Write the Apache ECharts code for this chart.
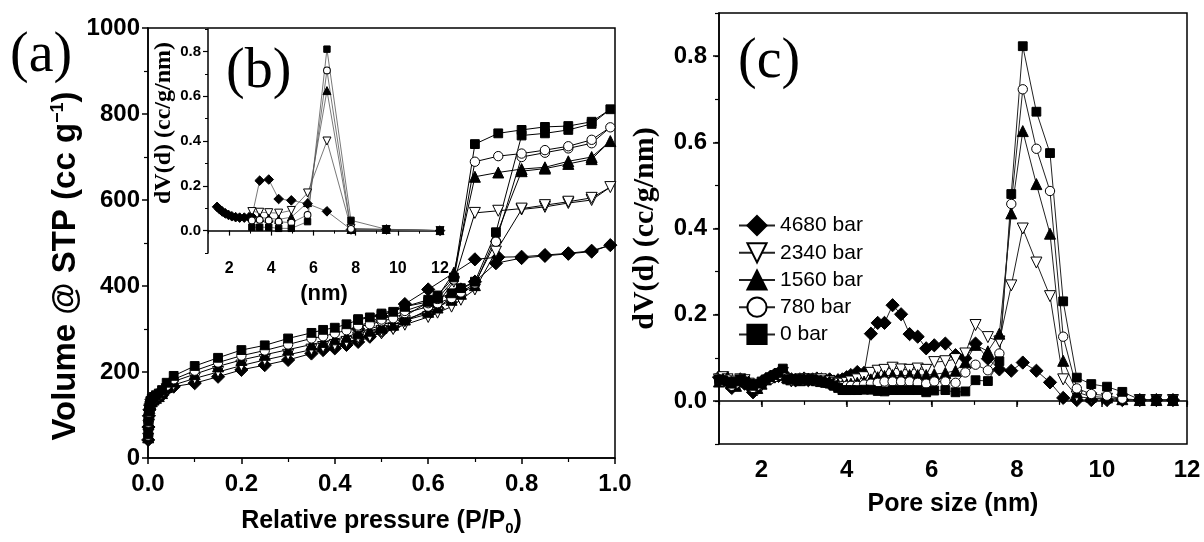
<!DOCTYPE html>
<html>
<head>
<meta charset="utf-8">
<script src="https://cdn.jsdelivr.net/npm/echarts@6/dist/echarts.min.js"></script>
<style>
  html, body { margin: 0; padding: 0; background: #fff; }
  #chart { width: 1204px; height: 542px; }
</style>
</head>
<body>
<div id="chart"></div>
<script>
// Samples, labelled by the applied pressure
const samples = ['4680 bar', '2340 bar', '1560 bar', '780 bar', '0 bar'];

// (a) N2 isotherms — adsorption branch (P/P0 and volume, cc/g)
const adsP = [0.0005, 0.001, 0.002, 0.003, 0.005, 0.008, 0.012, 0.017, 0.023, 0.03, 0.04, 0.055,
  0.1, 0.15, 0.2, 0.25, 0.3, 0.35, 0.375, 0.4, 0.425, 0.45, 0.475, 0.5, 0.525, 0.55,
  0.6, 0.62, 0.65, 0.67, 0.7, 0.745, 0.8, 0.85, 0.9, 0.95, 0.99];
const ads4680 = [42, 72, 98, 112, 122, 128, 133, 137, 141, 146, 158, 166,
  174, 189, 205, 216, 228, 243, 251, 255, 263, 270, 282, 294, 305, 320,
  335, 348, 375, 392, 410, 453, 465, 470, 475, 480, 495];
const ads2340 = [45, 75, 100, 113, 124, 130, 134, 138, 142, 148, 160, 170,
  185, 200, 215, 228, 240, 252, 258, 263, 270, 276, 283, 290, 300, 310,
  328, 338, 352, 368, 392, 480, 578, 584, 593, 600, 630];
const ads1560 = [48, 78, 102, 116, 126, 132, 136, 140, 144, 151, 165, 178,
  195, 213, 228, 240, 252, 264, 270, 276, 282, 290, 296, 303, 310, 322,
  340, 350, 368, 382, 402, 515, 667, 673, 684, 695, 737];
const ads780 = [52, 82, 105, 118, 128, 134, 138, 142, 146, 154, 168, 183,
  203, 222, 238, 250, 264, 278, 283, 290, 297, 305, 311, 318, 325, 337,
  352, 360, 372, 385, 406, 503, 700, 710, 720, 732, 769];
const ads0 = [55, 85, 108, 122, 132, 138, 142, 146, 150, 158, 175, 191,
  214, 233, 251, 262, 278, 291, 298, 303, 311, 321, 327, 333, 340, 352,
  363, 371, 383, 395, 410, 525, 750, 755, 763, 777, 811];

// (a) desorption branch
const desP = [0.95, 0.9, 0.85, 0.8, 0.75, 0.7, 0.655, 0.62, 0.6, 0.55, 0.5, 0.45];
const des4680 = [482, 476, 472, 468, 467, 462, null, null, 392, 358, 330, 300];
const des2340 = [605, 596, 588, 580, 575, 570, 410, 360, 345, 318, 295, 280];
const des1560 = [700, 690, 676, 672, 664, 654, 431, 375, 362, 330, 308, 293];
const des780 = [740, 725, 716, 708, 702, 689, 415, 370, 360, 342, 322, 308];
const des0 = [782, 772, 770, 763, 755, 730, 420, 378, 368, 352, 336, 323];

// (b) inset pore size distribution, dV(d) in cc/g/nm
const bX4680 = [1.43, 1.55, 1.68, 1.82, 1.97, 2.13, 2.31, 2.5, 2.72, 2.95, 3.08,
  3.45, 3.88, 4.35, 4.95, 5.72, 6.64, 7.78, 9.45, 12];
const b4680 = [0.106, 0.095, 0.085, 0.077, 0.07, 0.064, 0.06, 0.058, 0.058, 0.06, 0.062,
  0.223, 0.228, 0.141, 0.135, 0.12, 0.086, 0.005, 0.005, 0.0];
const bX = [3.08, 3.45, 3.88, 4.35, 4.95, 5.72, 6.64, 7.78, 9.45, 12];
const b2340 = [0.085, 0.082, 0.08, 0.078, 0.09, 0.168, 0.40, 0.01, 0.005, 0.0];
const b1560 = [0.06, 0.058, 0.055, 0.05, 0.06, 0.125, 0.625, 0.005, 0.005, 0.0];
const b780 = [0.045, 0.048, 0.045, 0.04, 0.035, 0.07, 0.715, 0.008, 0.005, 0.0];
const b0 = [0.015, 0.015, 0.015, 0.01, 0.01, 0.04, 0.81, 0.046, 0.006, 0.0];

// (c) pore size distribution, pore size (nm) vs dV(d)
const cX = [1.0, 1.1, 1.2, 1.3, 1.4, 1.5, 1.6, 1.7, 1.8, 1.9, 2.0, 2.1, 2.2, 2.3, 2.4, 2.5,
  2.6, 2.7, 2.8, 2.9, 3.0, 3.1, 3.2, 3.3, 3.4, 3.5, 3.6, 3.7, 3.8, 3.9, 4.0,
  4.1, 4.25, 4.41, 4.57, 4.73, 4.89, 5.08, 5.28, 5.48, 5.67, 5.87, 6.06, 6.32, 6.56,
  6.79, 7.03, 7.32, 7.59, 7.87, 8.14, 8.46, 8.78, 9.09, 9.41, 9.75, 10.12, 10.48,
  10.89, 11.28, 11.67];
const c4680 = [0.055, 0.05, 0.045, 0.03, 0.045, 0.05, 0.04, 0.035, 0.02, 0.03, 0.04, 0.05,
  0.055, 0.06, 0.058, 0.06, 0.055, 0.05, 0.048, 0.05, 0.052, 0.048, 0.05, 0.052, 0.05,
  0.048, 0.05, 0.045, 0.048, 0.05, 0.055,
  0.06, 0.067, 0.065, 0.156, 0.181, 0.181, 0.222, 0.201, 0.155, 0.149, 0.122, 0.129,
  0.133, 0.106, 0.099, 0.133, 0.098, 0.073, 0.07, 0.089, 0.07, 0.043, 0.007, 0.002,
  0.002, 0.002, 0.002, 0.002, 0.002, 0.002];
const c2340 = [0.05, 0.055, 0.05, 0.045, 0.04, 0.05, 0.048, 0.04, 0.03, 0.025, 0.035, 0.045,
  0.05, 0.055, 0.06, 0.065, 0.05, 0.045, 0.045, 0.05, 0.05, 0.05, 0.048, 0.05, 0.05,
  0.045, 0.045, 0.042, 0.04, 0.04, 0.042,
  0.045, 0.05, 0.055, 0.065, 0.07, 0.072, 0.077, 0.073, 0.072, 0.075, 0.072, 0.09,
  0.092, 0.097, 0.11, 0.176, 0.148, 0.138, 0.268, 0.40, 0.321, 0.243, 0.05, 0.01,
  0.006, 0.005, 0.003, 0.002, 0.002, 0.002];
const c1560 = [0.045, 0.05, 0.055, 0.04, 0.035, 0.045, 0.05, 0.045, 0.035, 0.03, 0.04, 0.05,
  0.055, 0.058, 0.062, 0.068, 0.055, 0.05, 0.05, 0.048, 0.05, 0.052, 0.05, 0.048, 0.046,
  0.045, 0.044, 0.04, 0.038, 0.036, 0.038,
  0.04, 0.042, 0.045, 0.05, 0.055, 0.058, 0.06, 0.058, 0.06, 0.06, 0.06, 0.062,
  0.065, 0.07, 0.09, 0.13, 0.115, 0.156, 0.435, 0.626, 0.503, 0.388, 0.093, 0.02,
  0.01, 0.008, 0.004, 0.002, 0.002, 0.002];
const c780 = [0.05, 0.045, 0.05, 0.035, 0.04, 0.048, 0.045, 0.04, 0.03, 0.035, 0.045, 0.05,
  0.05, 0.055, 0.06, 0.07, 0.052, 0.048, 0.05, 0.05, 0.048, 0.05, 0.05, 0.046, 0.045,
  0.042, 0.04, 0.038, 0.035, 0.034, 0.035,
  0.035, 0.035, 0.038, 0.04, 0.042, 0.045, 0.045, 0.045, 0.045, 0.042, 0.04, 0.045,
  0.045, 0.042, 0.066, 0.084, 0.071, 0.11, 0.457, 0.723, 0.585, 0.487, 0.149, 0.029,
  0.016, 0.012, 0.005, 0.002, 0.002, 0.002];
const c0 = [0.05, 0.048, 0.045, 0.04, 0.045, 0.05, 0.045, 0.04, 0.035, 0.04, 0.045, 0.05,
  0.055, 0.06, 0.065, 0.075, 0.05, 0.05, 0.05, 0.05, 0.05, 0.048, 0.05, 0.048, 0.045,
  0.042, 0.04, 0.035, 0.03, 0.025, 0.025,
  0.025, 0.025, 0.026, 0.026, 0.023, 0.022, 0.025, 0.025, 0.025, 0.025, 0.02, 0.024,
  0.025, 0.02, 0.022, 0.048, 0.046, 0.092, 0.48, 0.823, 0.671, 0.575, 0.231, 0.054,
  0.039, 0.033, 0.021, 0.003, 0.002, 0.002];

// Tick values
const isoXTicks = { min: 0, max: 1, step: 0.2 };
const isoYTicks = { min: 0, max: 1000, step: 200 };
const psdXMajor = [2, 4, 6, 8, 10, 12];
const psdYMajor = [0, 0.2, 0.4, 0.6, 0.8];

// Marker per sample
const markers = {
  '4680 bar': { symbol: 'diamond', rotate: 0, fill: '#000', k: 1.2 },
  '2340 bar': { symbol: 'triangle', rotate: 180, fill: '#fff', k: 1.0 },
  '1560 bar': { symbol: 'triangle', rotate: 0, fill: '#000', k: 1.0 },
  '780 bar': { symbol: 'circle', rotate: 0, fill: '#fff', k: 0.85 },
  '0 bar': { symbol: 'rect', rotate: 0, fill: '#000', k: 0.8 }
};

function pairs(xs, ys) {
  const out = [];
  xs.forEach((x, i) => { if (ys[i] !== null) out.push([x, ys[i]]); });
  return out;
}

function lineSeries(name, data, xIdx, yIdx, baseSize, lineColor, lineWidth) {
  const m = markers[name];
  return {
    type: 'line', name, data,
    xAxisIndex: xIdx, yAxisIndex: yIdx,
    symbol: m.symbol, symbolRotate: m.rotate, symbolSize: baseSize * m.k,
    showAllSymbol: true,
    lineStyle: { color: lineColor, width: lineWidth },
    itemStyle: { color: m.fill, borderColor: '#000', borderWidth: 1 },
    emphasis: { disabled: true },
    silent: true
  };
}

const font = 'Liberation Sans, Arial, sans-serif';
const serif = 'Liberation Serif, Times New Roman, serif';
const axisLine = { show: true, lineStyle: { color: '#000', width: 1.5 } };
const noSplit = { show: false };

const series = [];
// (c)
[['4680 bar', c4680], ['2340 bar', c2340], ['1560 bar', c1560], ['780 bar', c780], ['0 bar', c0]]
  .forEach(([n, v]) => series.push(lineSeries(n, pairs(cX, v), 3, 3, 11, '#222', 1)));
// (a)
[['4680 bar', ads4680, des4680], ['2340 bar', ads2340, des2340], ['1560 bar', ads1560, des1560],
 ['780 bar', ads780, des780], ['0 bar', ads0, des0]]
  .forEach(([n, a, d]) => series.push(lineSeries(n, pairs(adsP, a).concat(pairs(desP, d)), 0, 0, 11, '#000', 1)));
// (b)
series.push(lineSeries('4680 bar', pairs(bX4680, b4680), 1, 1, 8, '#555', 0.8));
[['2340 bar', b2340], ['1560 bar', b1560], ['780 bar', b780], ['0 bar', b0]]
  .forEach(([n, v]) => series.push(lineSeries(n, pairs(bX, v), 1, 1, 8, '#555', 0.8)));

const option = {
  animation: false,
  backgroundColor: '#fff',
  grid: [
    { left: 148, top: 28, width: 467, height: 430, show: true, borderColor: '#000', borderWidth: 1.5, backgroundColor: 'transparent' },
    { left: 208, top: 29, width: 232, height: 224 },
    { left: 719, top: 13, width: 468, height: 431, show: true, borderColor: '#000', borderWidth: 1.5, backgroundColor: 'transparent' }
  ],
  legend: {
    data: samples, orient: 'vertical', left: 733, top: 210,
    itemWidth: 36, itemHeight: 24, itemGap: 6, selectedMode: false,
    textStyle: { fontFamily: font, fontSize: 21, color: '#000' }
  },
  xAxis: [
    { gridIndex: 0, type: 'value', position: 'bottom', min: isoXTicks.min, max: isoXTicks.max, interval: isoXTicks.step,
      axisLine, splitLine: noSplit,
      axisTick: { show: true, length: 6, lineStyle: { color: '#000', width: 1.5 } },
      minorTick: { show: true, splitNumber: 2, length: 4, lineStyle: { color: '#000', width: 1.2 } },
      axisLabel: { margin: 14, fontFamily: font, fontWeight: 'bold', fontSize: 24, color: '#000', formatter: v => v.toFixed(1) },
      name: 'Relative pressure (P/P{sub|0})', nameLocation: 'middle', nameGap: 49,
      nameTextStyle: { fontFamily: font, fontWeight: 'bold', fontSize: 25, color: '#000',
        rich: { sub: { fontFamily: font, fontWeight: 'bold', fontSize: 15, color: '#000', verticalAlign: 'bottom', padding: [14, 0, 0, 0] } } } },
    { gridIndex: 1, type: 'value', position: 'bottom', min: 1, max: 12,
      axisLine, splitLine: noSplit,
      axisTick: { show: true, length: 5, customValues: psdXMajor, lineStyle: { color: '#000', width: 1.2 } },
      axisLabel: { margin: 8, customValues: psdXMajor, fontFamily: font, fontWeight: 'bold', fontSize: 16, color: '#000' },
      name: '(nm)', nameLocation: 'middle', nameGap: 30,
      nameTextStyle: { fontFamily: font, fontWeight: 'bold', fontSize: 22, color: '#000' } },
    { gridIndex: 1, type: 'value', position: 'bottom', min: 1, max: 12, interval: 1,
      axisLine: { show: false }, splitLine: noSplit, axisLabel: { show: false },
      axisTick: { show: true, length: 3, lineStyle: { color: '#000', width: 1 } } },
    { gridIndex: 2, type: 'value', position: 'bottom', min: 1, max: 12,
      axisLine, splitLine: noSplit,
      axisTick: { show: true, length: 6, customValues: psdXMajor, lineStyle: { color: '#000', width: 1.5 } },
      axisLabel: { margin: 14, customValues: psdXMajor, fontFamily: font, fontWeight: 'bold', fontSize: 24, color: '#000' },
      name: 'Pore size (nm)', nameLocation: 'middle', nameGap: 48,
      nameTextStyle: { fontFamily: font, fontWeight: 'bold', fontSize: 25, color: '#000' } },
    { gridIndex: 2, type: 'value', position: 'bottom', min: 1, max: 12, interval: 1,
      axisLine: { show: false }, splitLine: noSplit, axisLabel: { show: false },
      axisTick: { show: true, length: 4, lineStyle: { color: '#000', width: 1.2 } } }
  ],
  yAxis: [
    { gridIndex: 0, type: 'value', position: 'left', min: isoYTicks.min, max: isoYTicks.max, interval: isoYTicks.step,
      axisLine, splitLine: noSplit,
      axisTick: { show: true, length: 6, lineStyle: { color: '#000', width: 1.5 } },
      minorTick: { show: true, splitNumber: 2, length: 4, lineStyle: { color: '#000', width: 1.2 } },
      axisLabel: { margin: 8, fontFamily: font, fontWeight: 'bold', fontSize: 24, color: '#000', formatter: v => String(v) },
      name: 'Volume @ STP (cc g{sup|−1})', nameLocation: 'middle', nameRotate: 90, nameGap: 66,
      nameTextStyle: { fontFamily: font, fontWeight: 'bold', fontSize: 33, color: '#000', padding: [0, 46, 0, 0],
        rich: { sup: { fontFamily: font, fontWeight: 'bold', fontSize: 18, color: '#000', verticalAlign: 'top' } } } },
    { gridIndex: 1, type: 'value', position: 'left', min: -0.1, max: 0.9,
      axisLine, splitLine: noSplit,
      axisTick: { show: true, length: 5, customValues: psdYMajor, lineStyle: { color: '#000', width: 1.2 } },
      axisLabel: { margin: 7, customValues: psdYMajor, fontFamily: font, fontWeight: 'bold', fontSize: 15, color: '#000', formatter: v => v.toFixed(1) },
      name: 'dV(d) (cc/g/nm)', nameLocation: 'middle', nameRotate: 90, nameGap: 32,
      nameTextStyle: { fontFamily: serif, fontWeight: 'bold', fontSize: 24, color: '#000', padding: [0, 0, 0, 36] } },
    { gridIndex: 1, type: 'value', position: 'left', min: -0.1, max: 0.9, interval: 0.1,
      axisLine: { show: false }, splitLine: noSplit, axisLabel: { show: false },
      axisTick: { show: true, length: 3, lineStyle: { color: '#000', width: 1 } } },
    { gridIndex: 2, type: 'value', position: 'left', min: -0.1, max: 0.9,
      axisLine, splitLine: noSplit,
      axisTick: { show: true, length: 6, customValues: psdYMajor, lineStyle: { color: '#000', width: 1.5 } },
      axisLabel: { margin: 12, customValues: psdYMajor, fontFamily: font, fontWeight: 'bold', fontSize: 24, color: '#000', formatter: v => v.toFixed(1) },
      name: 'dV(d) (cc/g/nm)', nameLocation: 'middle', nameRotate: 90, nameGap: 59,
      nameTextStyle: { fontFamily: serif, fontWeight: 'bold', fontSize: 30, color: '#000' } },
    { gridIndex: 2, type: 'value', position: 'left', min: -0.1, max: 0.9, interval: 0.1,
      axisLine: { show: false }, splitLine: noSplit, axisLabel: { show: false },
      axisTick: { show: true, length: 4, lineStyle: { color: '#000', width: 1.2 } } }
  ],
  graphic: [
    { type: 'text', left: 10, top: 28, style: { text: '(a)', fontFamily: serif, fontSize: 56, fill: '#000' } },
    { type: 'text', left: 226, top: 44, style: { text: '(b)', fontFamily: serif, fontSize: 56, fill: '#000' } },
    { type: 'text', left: 738, top: 34, style: { text: '(c)', fontFamily: serif, fontSize: 56, fill: '#000' } }
  ],
  series
};

const chart = echarts.init(document.getElementById('chart'), null, { renderer: 'canvas' });
chart.setOption(option);
</script>
</body>
</html>
